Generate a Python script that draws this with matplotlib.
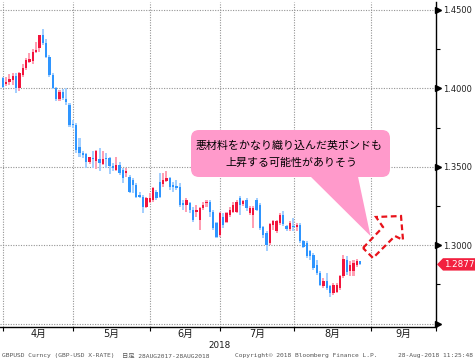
import matplotlib
matplotlib.use('Agg')
import matplotlib.pyplot as plt
import numpy as np
import pandas as pd
from matplotlib.patches import Polygon, FancyBboxPatch
from matplotlib.transforms import IdentityTransform, blended_transform_factory

W, H, DPI = 475, 364, 100

# ---------------- data (GBPUSD daily candles, 30 Mar 2018 - 28 Aug 2018) ----------------
dates = pd.bdate_range('2018-03-30', '2018-08-28')
opens = [1.4064, 1.4025, 1.4042, 1.4053, 1.4081, 1.4000, 1.4085, 1.4131, 1.4170, 1.4174,
         1.4229, 1.4259, 1.4339, 1.4286, 1.4201, 1.4085, 1.4000, 1.3932, 1.3975, 1.3932,
         1.3894, 1.3775, 1.3767, 1.3625, 1.3587, 1.3580, 1.3529, 1.3555, 1.3534, 1.3551,
         1.3517, 1.3555, 1.3555, 1.3502, 1.3481, 1.3512, 1.3479, 1.3457, 1.3436, 1.3415,
         1.3383, 1.3319, 1.3309, 1.3245, 1.3277, 1.3287, 1.3340, 1.3404, 1.3389, 1.3411,
         1.3426, 1.3381, 1.3377, 1.3372, 1.3266, 1.3255, 1.3266, 1.3223, 1.3213, 1.3160,
         1.3234, 1.3266, 1.3277, 1.3213, 1.3138, 1.3064, 1.3181, 1.3149, 1.3192, 1.3213,
         1.3213, 1.3300, 1.3262, 1.3289, 1.3204, 1.3194, 1.3289, 1.3257, 1.3113, 1.3077,
         1.3015, 1.3130, 1.3087, 1.3140, 1.3194, 1.3119, 1.3100, 1.3125, 1.3113, 1.3130,
         1.3023, 1.3013, 1.2960, 1.2938, 1.2874, 1.2821, 1.2736, 1.2768, 1.2736, 1.2694,
         1.2704, 1.2726, 1.2800, 1.2905, 1.2835, 1.2832, 1.2870, 1.2896]
highs = [1.4074, 1.4074, 1.4089, 1.4095, 1.4095, 1.4106, 1.4153, 1.4191, 1.4223, 1.4250,
         1.4293, 1.4343, 1.4377, 1.4314, 1.4210, 1.4095, 1.4011, 1.3989, 1.3995, 1.4000,
         1.3905, 1.3795, 1.3777, 1.3680, 1.3597, 1.3587, 1.3565, 1.3597, 1.3608, 1.3618,
         1.3597, 1.3587, 1.3565, 1.3523, 1.3565, 1.3532, 1.3489, 1.3489, 1.3447, 1.3426,
         1.3394, 1.3340, 1.3319, 1.3309, 1.3330, 1.3372, 1.3351, 1.3457, 1.3457, 1.3474,
         1.3436, 1.3404, 1.3415, 1.3394, 1.3287, 1.3298, 1.3277, 1.3245, 1.3255, 1.3245,
         1.3277, 1.3287, 1.3287, 1.3223, 1.3149, 1.3213, 1.3202, 1.3213, 1.3245, 1.3277,
         1.3287, 1.3311, 1.3289, 1.3300, 1.3250, 1.3247, 1.3300, 1.3268, 1.3119, 1.3087,
         1.3140, 1.3162, 1.3162, 1.3204, 1.3215, 1.3130, 1.3155, 1.3172, 1.3140, 1.3140,
         1.3034, 1.3023, 1.2970, 1.2949, 1.2906, 1.2832, 1.2789, 1.2821, 1.2747, 1.2757,
         1.2757, 1.2811, 1.2938, 1.2930, 1.2896, 1.2905, 1.2910, 1.2900]
lows = [1.4000, 1.4017, 1.4021, 1.4021, 1.3968, 1.3983, 1.4074, 1.4117, 1.4159, 1.4153,
        1.4223, 1.4233, 1.4276, 1.4191, 1.4070, 1.3995, 1.3919, 1.3919, 1.3925, 1.3894,
        1.3756, 1.3750, 1.3587, 1.3565, 1.3555, 1.3491, 1.3517, 1.3491, 1.3487, 1.3470,
        1.3512, 1.3491, 1.3453, 1.3470, 1.3470, 1.3447, 1.3394, 1.3436, 1.3330, 1.3330,
        1.3298, 1.3298, 1.3202, 1.3234, 1.3266, 1.3277, 1.3287, 1.3298, 1.3372, 1.3404,
        1.3351, 1.3340, 1.3351, 1.3245, 1.3223, 1.3213, 1.3206, 1.3149, 1.3181, 1.3096,
        1.3223, 1.3245, 1.3181, 1.3096, 1.3043, 1.3053, 1.3107, 1.3138, 1.3181, 1.3202,
        1.3202, 1.3194, 1.3247, 1.3215, 1.3190, 1.3108, 1.3215, 1.3098, 1.3045, 1.2960,
        1.3002, 1.3098, 1.3077, 1.3130, 1.3119, 1.3087, 1.3087, 1.3087, 1.3087, 1.3013,
        1.2981, 1.2917, 1.2906, 1.2843, 1.2811, 1.2736, 1.2726, 1.2715, 1.2672, 1.2683,
        1.2694, 1.2715, 1.2789, 1.2811, 1.2800, 1.2800, 1.2860, 1.2870]
closes = [1.4011, 1.4042, 1.4057, 1.4081, 1.4000, 1.4095, 1.4131, 1.4180, 1.4184, 1.4233,
          1.4244, 1.4339, 1.4286, 1.4197, 1.4085, 1.4000, 1.3932, 1.3979, 1.3940, 1.3911,
          1.3767, 1.3765, 1.3605, 1.3590, 1.3576, 1.3529, 1.3559, 1.3546, 1.3601, 1.3523,
          1.3551, 1.3548, 1.3502, 1.3491, 1.3512, 1.3460, 1.3426, 1.3474, 1.3340, 1.3383,
          1.3309, 1.3304, 1.3245, 1.3298, 1.3298, 1.3362, 1.3298, 1.3309, 1.3415, 1.3426,
          1.3372, 1.3372, 1.3362, 1.3255, 1.3255, 1.3287, 1.3223, 1.3160, 1.3223, 1.3234,
          1.3255, 1.3277, 1.3213, 1.3107, 1.3053, 1.3202, 1.3128, 1.3202, 1.3223, 1.3255,
          1.3277, 1.3257, 1.3279, 1.3236, 1.3236, 1.3236, 1.3225, 1.3108, 1.3066, 1.3002,
          1.3134, 1.3155, 1.3151, 1.3194, 1.3134, 1.3102, 1.3140, 1.3115, 1.3130, 1.3023,
          1.2991, 1.2928, 1.2928, 1.2853, 1.2821, 1.2747, 1.2772, 1.2726, 1.2694, 1.2747,
          1.2747, 1.2800, 1.2910, 1.2830, 1.2874, 1.2886, 1.2896, 1.2877]

ytick_vals = [1.25, 1.30, 1.35, 1.40, 1.45]
ytick_labels = ['', '1.3000', '1.3500', '1.4000', '1.4500']
ymin_tick_vals = [1.275, 1.325, 1.375, 1.425]
month_labels = ['4月', '5月', '6月', '7月', '8月', '9月']
year_label = '2018'
callout_lines = ['悪材料をかなり織り込んだ英ポンドも', '上昇する可能性がありそう']
footer = ['GBPUSD Curncy (GBP-USD X-RATE)', '日足 28AUG2017-28AUG2018',
          'Copyright© 2018 Bloomberg Finance L.P.', '28-Aug-2018 11:25:48']

# ---------------- layout helpers ----------------
def fx(x):
    return x / W

def fy(y):
    return 1 - y / H

BLUE, LBLUE = '#2E95FF', '#A3CFFF'
RED, PINK = '#F2143C', '#FF9FB3'

fig = plt.figure(figsize=(W / DPI, H / DPI), dpi=DPI)
fig.patch.set_facecolor('white')
ax = fig.add_axes([fx(0), fy(326.7), fx(436), (326.7 - 2) / H])

o = np.array(opens); h = np.array(highs); l = np.array(lows); c = np.array(closes)
pos = np.arange(len(dates)) - 1  # trading-day positions (30 Mar = -1, 2 Apr = 0)
up = c >= o
wick_col = np.where(up, PINK, LBLUE)
body_col = np.where(up, RED, BLUE)

ax.set_xlim(-1.8, 128.7)
ax.set_ylim(1.24796, 1.45504)

# grid
all_days = pd.bdate_range('2018-03-30', '2018-09-28')
all_pos = np.arange(len(all_days)) - 1
month_first = [all_pos[(all_days.month == m)][0] for m in range(4, 10)]
bounds = [p - 0.9 for p in month_first]
for yv in ytick_vals:
    ax.axhline(yv, color='#949494', lw=0.8, ls=(0, (1.0, 1.3)), zorder=1)
for b in bounds:
    ax.axvline(b, color='#949494', lw=0.8, ls=(0, (1.0, 1.3)), zorder=1)

# candles
ax.bar(pos, h - l, bottom=l, width=0.62, color=wick_col, linewidth=0, zorder=2)
body_h = np.maximum(np.abs(c - o), 0.0004)
ax.bar(pos, body_h, bottom=np.minimum(o, c), width=0.7, color=body_col, linewidth=0, zorder=3)

# spines
for s in ['left', 'top']:
    ax.spines[s].set_visible(False)
for s in ['right', 'bottom']:
    ax.spines[s].set_color('black')
    ax.spines[s].set_linewidth(1.0)

# x ticks
ax.set_xticks(bounds + [128.7])
ax.set_xticklabels([])
ax.tick_params(axis='x', which='major', length=3, width=0.8, color='black', direction='out')
blend = blended_transform_factory(ax.transData, fig.transFigure)
mids = [(bounds[i] + (bounds[i + 1] if i + 1 < len(bounds) else 128.7)) / 2 for i in range(len(bounds))]
for mx, lab in zip(mids, month_labels):
    ax.text(mx, fy(333.5), lab, transform=blend, ha='center', va='center', fontsize=7,
            family=['DejaVu Sans', 'Noto Sans CJK JP'], color='#1a1a1a')
ax.text(fx(219.5), fy(345.5), year_label, transform=fig.transFigure, ha='center', va='center',
        fontsize=6.3, color='#1a1a1a')

# y axis on right
ax.yaxis.tick_right()
ax.set_yticks(ytick_vals)
ax.set_yticklabels(ytick_labels)
ax.set_yticks(ymin_tick_vals, minor=True)
ax.tick_params(axis='y', which='major', length=0, pad=5.2, labelsize=6, labelcolor='#222222')
ax.tick_params(axis='y', which='minor', length=3, width=0.8, color='black', direction='out')
yblend = blended_transform_factory(ax.transAxes, ax.transData)
ax.plot([1.0055] * len(ytick_vals), ytick_vals, ls='none', marker='>', markersize=4.2,
        color='black', transform=yblend, clip_on=False, zorder=5)

# last price tag
_, ty = ax.transData.transform((0, closes[-1]))
tag = Polygon([(437, ty), (443, ty + 6.2), (475, ty + 6.2), (475, ty - 6.2), (443, ty - 6.2)],
              closed=True, facecolor='#F2203F', edgecolor='none', transform=IdentityTransform())
fig.add_artist(tag)
fig.text(fx(459.5), ty / H, f'{closes[-1]:.4f}', ha='center', va='center', fontsize=6.3,
         color='white')

# callout
ptr = Polygon([(306, H - 172), (357, H - 172), (370.5, H - 236)], closed=True,
              facecolor='#FF9ACB', edgecolor='none', transform=IdentityTransform())
fig.add_artist(ptr)
box = FancyBboxPatch((191, H - 177), 199, 47, boxstyle='round,pad=0,rounding_size=8',
                     facecolor='#FF9ACB', edgecolor='none', transform=IdentityTransform())
fig.add_artist(box)
fig.text(fx(289), fy(146), callout_lines[0], ha='center', va='center', fontsize=7.9,
         family=['Noto Sans CJK JP'], color='black')
fig.text(fx(291.5), fy(162.5), callout_lines[1], ha='center', va='center', fontsize=7.9,
         family=['Noto Sans CJK JP'], color='black')

# dashed red arrow
arrow_pts = [(363, 248), (383, 227), (376, 217), (401, 216), (403, 240), (395, 236), (373, 258)]
arr = Polygon([(x, H - y) for x, y in arrow_pts], closed=True, facecolor='none',
              edgecolor='#E8131B', lw=1.6, ls=(0, (2.6, 1.6)), transform=IdentityTransform(),
              joinstyle='miter')
fig.add_artist(arr)

# footer
fkw = dict(fontsize=4.5, color='#555555', va='center', ha='left',
           family=['DejaVu Sans Mono', 'Noto Sans CJK JP'])
fig.text(fx(2), fy(356), footer[0], **fkw)
fig.text(fx(122), fy(356), footer[1], **fkw)
fig.text(fx(235), fy(356), footer[2], **fkw)
fig.text(fx(398), fy(356), footer[3], **fkw)

fig.savefig('out.png', dpi=DPI, facecolor='white')
